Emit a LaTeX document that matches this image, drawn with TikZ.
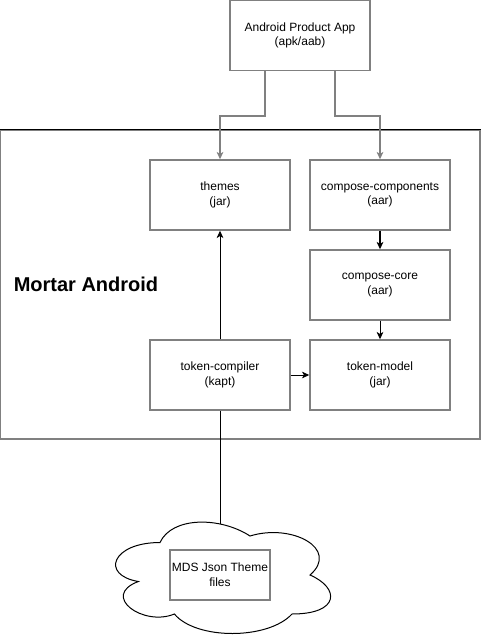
\documentclass[tikz,border=0pt]{standalone}
\usepackage{fontspec}
\setmainfont{Liberation Sans}
\usetikzlibrary{arrows.meta}
\definecolor{gline}{RGB}{128,128,128}
\tikzset{
  box/.style={draw=gline, line width=1.1pt, minimum width=105pt, minimum height=52.5pt,
    align=center, font=\fontsize{9}{11}\selectfont, inner sep=0pt},
  tip/.style={-{Stealth[length=5.5pt,width=5pt,inset=1.5pt]}},
  gconn/.style={draw=gline, line width=1.1pt, tip},
  bconn/.style={draw=black, line width=0.75pt, tip},
}
\begin{document}
\begin{tikzpicture}[x=0.75pt, y=-0.75pt]
\useasboundingbox (0,0) rectangle (481,641);
% container
\node[draw=gline, line width=1.1pt, minimum width=360pt, minimum height=231.75pt, inner sep=0pt] (frame) at (240,284.5) {};
\draw[black, line width=0.75pt] (frame.north west) -- (frame.north east);
\node[font=\fontsize{15}{18}\selectfont\bfseries] (label) at (86,284) {Mortar Android};
% boxes
\node[box] (app) at (300,35.5) {Android Product App\\(apk/aab)};
\node[box] (themes) at (220,195) {themes\\(jar)};
\node[box] (cc) at (380,195) {compose-components\\(aar)};
\node[box] (core) at (380,285) {compose-core\\(aar)};
\node[box] (compiler) at (220,375) {token-compiler\\(kapt)};
\node[box] (model) at (380,375) {token-model\\(jar)};
% cloud
\draw[black, line width=0.75pt] (160,542.5)
  .. controls (112,542.5) and (100,575) .. (138.4,581.5)
  .. controls (100,595.8) and (143.2,627) .. (174.4,614)
  .. controls (196,640) and (268,640) .. (292,614)
  .. controls (340,614) and (340,588) .. (310,575)
  .. controls (340,549) and (292,523) .. (250,536)
  .. controls (220,516.5) and (172,516.5) .. (160,542.5) -- cycle;
\coordinate (cloudtop) at (220,524);
\node[box, minimum width=75pt, minimum height=37.5pt] (mds) at (220,575) {MDS Json Theme\\files};
% connectors
\draw[gconn] ([xshift=-26.25pt]app.south) -- ++(0,45) -| (themes.north);
\draw[gconn] ([xshift=26.25pt]app.south) -- ++(0,45) -| (cc.north);
\draw[bconn, line width=1.3pt] (cc.south) -- (core.north);
\draw[bconn] (core.south) -- (model.north);
\draw[bconn] (compiler.north) -- (themes.south);
\draw[bconn] (compiler.east) -- (model.west);
\draw[black, line width=0.75pt] (compiler.south) -- (cloudtop);
\end{tikzpicture}
\end{document}
